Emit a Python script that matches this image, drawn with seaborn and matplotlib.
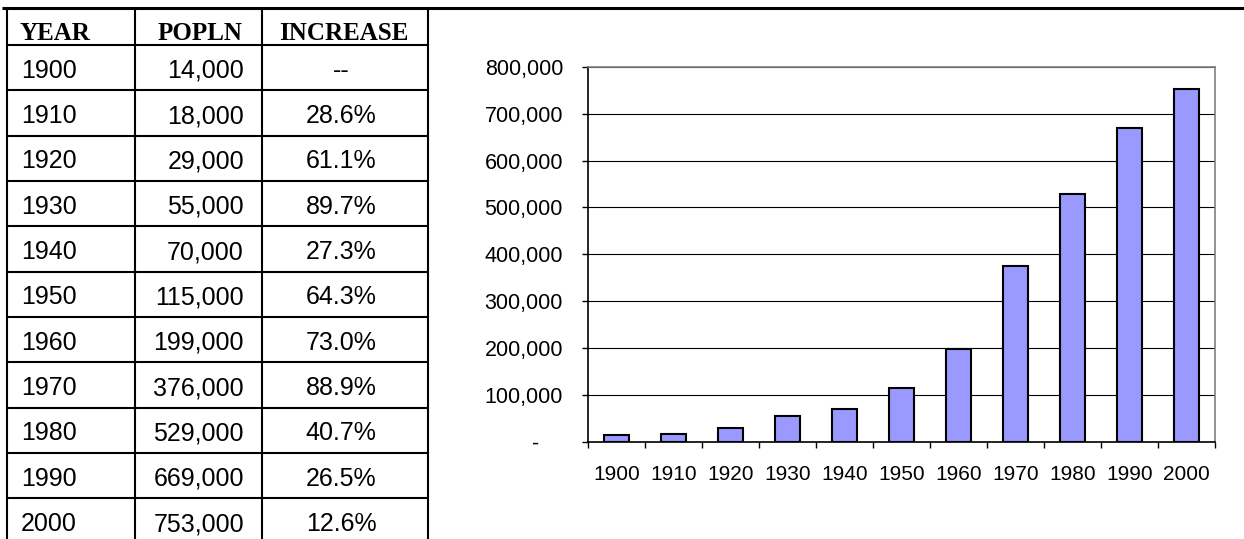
import numpy as np
import matplotlib
matplotlib.use("Agg")
import matplotlib.pyplot as plt
import matplotlib.ticker as mticker
import seaborn as sns

# Table / chart data
headers = ["YEAR", "POPLN", "INCREASE"]
years = ["1900", "1910", "1920", "1930", "1940", "1950",
         "1960", "1970", "1980", "1990", "2000"]
popln = [14000, 18000, 29000, 55000, 70000, 115000,
         199000, 376000, 529000, 669000, 753000]
increase = ["--", "28.6%", "61.1%", "89.7%", "27.3%", "64.3%",
            "73.0%", "88.9%", "40.7%", "26.5%", "12.6%"]

sns.set_theme(style="white")
plt.rcParams["font.family"] = ["Liberation Sans", "DejaVu Sans"]
plt.rcParams["text.color"] = "black"

fig = plt.figure(figsize=(12.44, 5.39), dpi=100)

# Table drawn in pixel coordinates of the figure
tab = fig.add_axes([0, 0, 1, 1])
tab.set_xlim(0, 1244)
tab.set_ylim(539, 0)
tab.axis("off")

top, head_bot, row_h = 8, 45, 45.33
col_lines = [7, 135, 262, 428]

tab.plot([2, 1244], [top, top], color="black", lw=2.2, solid_capstyle="butt")
for x in col_lines:
    tab.plot([x, x], [top, 539], color="black", lw=1.5)
for i in range(len(years)):
    y = head_bot + i * row_h
    tab.plot([col_lines[0], col_lines[-1]], [y, y], color="black", lw=1.5)

hdr_font = dict(family="Liberation Serif", weight="bold", fontsize=18,
                va="baseline", color="black")
tab.text(20, 40, headers[0], ha="left", **hdr_font)
tab.text(243, 40, headers[1], ha="right", **hdr_font)
tab.text(344, 40, headers[2], ha="center", **hdr_font)

for i, (yr, p, inc) in enumerate(zip(years, popln, increase)):
    base = head_bot + (i + 1) * row_h - 12.5
    tab.text(21, base, yr, ha="left", va="baseline", fontsize=18, color="black")
    tab.text(244, base, f"{p:,}", ha="right", va="baseline", fontsize=18, color="black")
    tab.text(341, base, inc, ha="center", va="baseline", fontsize=18, color="black")

# Bar chart
ax = fig.add_axes([588 / 1244, (539 - 442) / 539, 627 / 1244, 375.3 / 539])
sns.barplot(x=years, y=popln, color="#9999FF", saturation=1,
            edgecolor="black", linewidth=1.5, width=0.43, ax=ax)

ax.set_ylim(0, 800000)
ax.set_xlim(-0.5, len(years) - 0.5)
ax.set_yticks(np.arange(0, 800001, 100000))
ax.yaxis.set_major_formatter(
    mticker.FuncFormatter(lambda v, pos: "-    " if v == 0 else f"{v:,.0f}"))
ax.set_axisbelow(True)
ax.yaxis.grid(True, color="black", lw=0.8)
ax.xaxis.grid(False)

for s in ["left", "bottom"]:
    ax.spines[s].set_color("black")
    ax.spines[s].set_linewidth(1.2)
for s in ["top", "right"]:
    ax.spines[s].set_color("#808080")
    ax.spines[s].set_linewidth(1.2)

ax.set_xticks(np.arange(-0.5, len(years), 1), minor=True)
ax.tick_params(axis="y", left=True, length=4.5, width=1, color="black",
               direction="out", pad=13.5, labelsize=15.5, labelcolor="black")
ax.tick_params(axis="x", which="major", bottom=True, length=0, pad=16.5,
               labelsize=15, labelcolor="black")
ax.tick_params(axis="x", which="minor", bottom=True, length=4.5, width=1,
               color="black", direction="out")
ax.set_xlabel("")
ax.set_ylabel("")

fig.savefig("out.png", dpi=100)
